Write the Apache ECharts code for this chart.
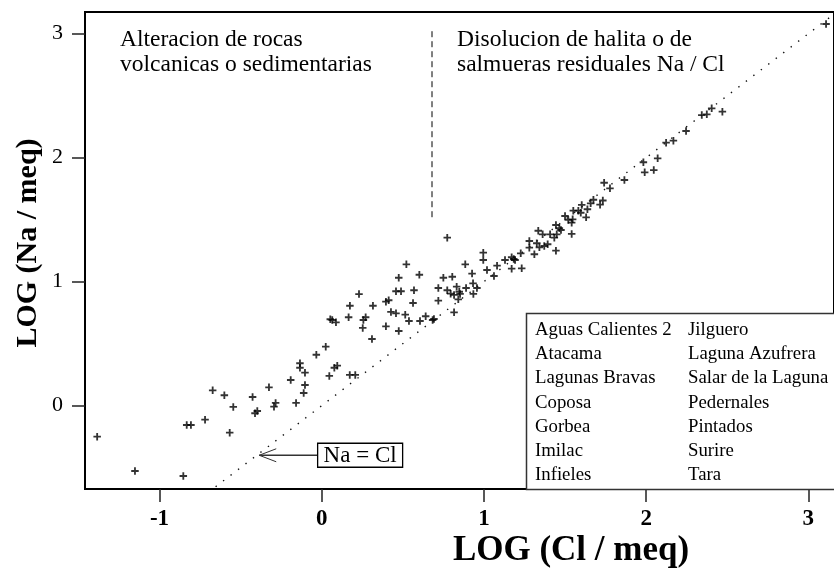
<!DOCTYPE html>
<html><head><meta charset="utf-8">
<script src="https://cdn.jsdelivr.net/npm/echarts@6/dist/echarts.min.js"></script>
<style>html,body{margin:0;padding:0;background:#fff}#c{width:834px;height:569px}</style>
</head><body><div id="c"></div>
<script>
// ---- data ----
const logCl = [-1.384,-1.151,-0.853,-0.832,-0.806,-0.719,-0.672,-0.600,-0.545,-0.567,-0.426,-0.411,-0.397,
  -0.325,-0.294,-0.284,-0.191,-0.158,-0.134,-0.134,-0.103,-0.103,-0.111,-0.033,0.025,0.047,0.078,0.096,0.173,0.207,
  0.053,0.065,0.088,0.166,0.174,0.230,0.316,0.257,0.271,0.253,0.310,
  0.774,0.522,0.602,0.475,0.458,0.489,0.569,0.396,0.413,0.563,0.427,0.458,0.515,0.538,0.606,0.641,0.684,0.692,0.396,0.475,
  0.750,0.805,0.719,0.774,0.795,0.832,0.848,0.853,0.890,0.816,0.842,0.719,0.816,0.885,0.927,0.933,0.957,0.935,
  0.996,0.996,1.019,1.062,1.081,1.130,1.171,1.184,1.192,1.171,
  1.227,1.233,1.280,1.280,1.311,1.326,1.342,1.372,1.393,1.335,1.362,1.408,1.434,1.449,1.444,1.465,1.475,1.444,1.541,
  1.500,1.520,1.547,1.551,1.541,1.582,1.603,1.597,1.638,1.630,1.658,1.675,1.716,1.733,1.741,1.777,1.866,
  1.983,1.991,2.047,2.071,2.123,2.168,2.246,2.343,2.374,2.404,2.470,3.109];
const logNa = [-0.250,-0.527,-0.567,-0.156,-0.156,-0.113,0.124,0.084,-0.010,-0.218,0.070,-0.061,-0.043,
  0.148,-0.008,0.022,0.207,0.022,0.342,0.306,0.266,0.167,0.102,0.411,0.476,0.240,0.306,0.323,0.248,0.248,
  0.697,0.691,0.672,0.713,0.806,0.900,0.806,0.691,0.713,0.627,0.538,
  1.355,1.140,1.056,1.032,0.923,0.923,0.931,0.839,0.850,0.828,0.756,0.745,0.734,0.683,0.683,0.721,0.691,0.699,0.640,0.602,
  1.032,1.040,0.949,0.931,0.903,0.960,0.919,0.901,0.949,0.893,0.858,0.847,0.753,1.140,1.065,0.987,0.949,0.901,
  1.234,1.175,1.094,1.046,1.129,1.175,1.197,1.183,1.175,1.105,
  1.229,1.108,1.328,1.274,1.221,1.310,1.277,1.288,1.302,1.411,1.382,1.382,1.355,1.382,1.457,1.431,1.417,1.250,1.385,
  1.530,1.498,1.503,1.573,1.476,1.573,1.619,1.556,1.584,1.519,1.632,1.661,1.621,1.655,1.798,1.753,1.820,
  1.963,1.882,1.900,1.995,2.121,2.137,2.215,2.344,2.350,2.398,2.371,3.078];
const xTicks = [-1, 0, 1, 2, 3];
const yTicks = [0, 1, 2, 3];
const xRange = [-1.459, 3.158];
const yRange = [-0.672, 3.175];
const oneToOne = [-0.7, 3.2];           // Na = Cl reference line extent
const divideX = 0.68;                   // vertical separator position
const divideY = [1.52, 3.03];
const arrowTip = [-0.385, -0.40];
const arrowTail = [-0.025, -0.40];
const legendLeft = ['Aguas Calientes 2','Atacama','Lagunas Bravas','Coposa','Gorbea','Imilac','Infieles'];
const legendRight = ['Jilguero','Laguna Azufrera','Salar de la Laguna','Pedernales','Pintados','Surire','Tara'];
const xTitle = 'LOG (Cl / meq)';
const yTitle = 'LOG (Na / meq)';
const noteLeft = 'Alteracion de rocas\nvolcanicas o sedimentarias';
const noteRight = 'Disolucion de halita o de\nsalmueras residuales Na / Cl';
const ratioLabel = 'Na = Cl';

// ---- chart ----
const serif = '"Liberation Serif","Times New Roman",serif';
const chart = echarts.init(document.getElementById('c'), null, {renderer: 'canvas'});
const points = logCl.map((x, i) => [x, logNa[i]]);
const plus = 'path://M2.65,0h1.7v2.65h2.65v1.7h-2.65v2.65h-1.7v-2.65h-2.65v-1.7h2.65z';

chart.setOption({
  animation: false,
  backgroundColor: '#fff',
  grid: {left: 85, top: 12, right: -1, bottom: 80, show: true, borderColor: '#000', borderWidth: 2},
  xAxis: {
    type: 'value', min: xRange[0], max: xRange[1],
    axisLine: {show: true, onZero: false, lineStyle: {color: '#000', width: 2}},
    axisTick: {show: true, length: 13, customValues: xTicks, lineStyle: {color: '#222', width: 1.5}},
    axisLabel: {customValues: xTicks, margin: 19, fontFamily: serif, fontSize: 23, fontWeight: 'bold', color: '#000'},
    splitLine: {show: false}
  },
  yAxis: {
    type: 'value', min: yRange[0], max: yRange[1],
    axisLine: {show: true, onZero: false, lineStyle: {color: '#000', width: 2}},
    axisTick: {show: true, length: 13, customValues: yTicks, lineStyle: {color: '#222', width: 1.5}},
    axisLabel: {customValues: yTicks, margin: 22, fontFamily: serif, fontSize: 22, color: '#000'},
    splitLine: {show: false}
  },
  series: [
    {type: 'line', data: [[oneToOne[0], oneToOne[0]], [oneToOne[1], oneToOne[1]]], showSymbol: false, silent: true,
     lineStyle: {color: '#111', width: 1.4, type: [1.4, 8]}},
    {type: 'line', data: [[divideX, divideY[0]], [divideX, divideY[1]]], showSymbol: false, silent: true,
     lineStyle: {color: '#000', width: 1, type: [6, 4]}},
    {type: 'scatter', data: points, symbol: plus, symbolSize: 7.5, itemStyle: {color: '#000'}}
  ]
});

const tip = chart.convertToPixel({gridIndex: 0}, arrowTip);
const tail = chart.convertToPixel({gridIndex: 0}, arrowTail);
const legendTexts = [];
legendLeft.forEach((t, i) => legendTexts.push({type: 'text', x: 535, y: 330 + i * 24.2,
  style: {text: t, font: '18.8px ' + serif, fill: '#000', verticalAlign: 'middle'}}));
legendRight.forEach((t, i) => legendTexts.push({type: 'text', x: 688, y: 330 + i * 24.2,
  style: {text: t, font: '18.8px ' + serif, fill: '#000', verticalAlign: 'middle'}}));

chart.setOption({
  graphic: [
    {type: 'text', x: 571, y: 551, style: {text: xTitle, font: 'bold 35px ' + serif, fill: '#000', align: 'center', verticalAlign: 'middle'}},
    {type: 'text', x: 28, y: 243, rotation: Math.PI / 2, style: {text: yTitle, font: 'bold 30px ' + serif, fill: '#000', align: 'center', verticalAlign: 'middle'}},
    {type: 'text', x: 120, y: 27, style: {text: noteLeft, font: '23.5px ' + serif, lineHeight: 25, fill: '#000', verticalAlign: 'top'}},
    {type: 'text', x: 457, y: 27, style: {text: noteRight, font: '23.5px ' + serif, lineHeight: 25, fill: '#000', verticalAlign: 'top'}},
    {type: 'rect', shape: {x: 526.5, y: 313.5, width: 320, height: 176}, style: {fill: '#fff', stroke: '#333', lineWidth: 1.5}, z: 10},
    ...legendTexts.map(t => Object.assign(t, {z: 11})),
    {type: 'line', shape: {x1: tail[0], y1: tail[1], x2: tip[0], y2: tip[1]}, style: {stroke: '#333', lineWidth: 1.3}, z: 10},
    {type: 'polyline', shape: {points: [[tip[0] + 17, tip[1] - 6.5], [tip[0], tip[1]], [tip[0] + 17, tip[1] + 6.5]]}, style: {stroke: '#333', lineWidth: 1, fill: null}, z: 10},
    {type: 'rect', shape: {x: tail[0], y: tail[1] - 12, width: 85, height: 24}, style: {fill: '#fff', stroke: '#000', lineWidth: 1.3}, z: 10},
    {type: 'text', x: tail[0] + 42.5, y: tail[1] + 0.5, style: {text: ratioLabel, font: '23px ' + serif, fill: '#000', align: 'center', verticalAlign: 'middle'}, z: 11}
  ]
});
</script></body></html>
